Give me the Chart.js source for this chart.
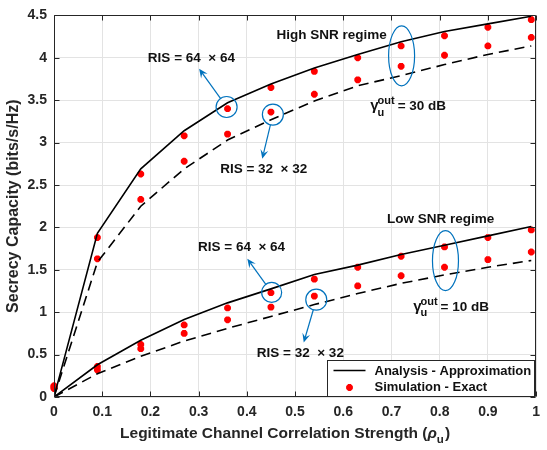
<!DOCTYPE html>
<html>
<head>
<meta charset="utf-8">
<script src="https://cdn.jsdelivr.net/npm/chart.js@4.4.1/dist/chart.umd.min.js"></script>
<style>
  html, body { margin: 0; padding: 0; background: #fff; }
  #wrap { width: 547px; height: 450px; }
</style>
</head>
<body>
<div id="wrap"><canvas id="capChart"></canvas></div>
<script>
// correlation strength samples
var rho = [0, 0.09, 0.18, 0.27, 0.36, 0.45, 0.54, 0.63, 0.72, 0.81, 0.90, 0.99];

// analysis (approximation) curves
var highAna64 = [0, 1.93, 2.69, 3.14, 3.47, 3.69, 3.88, 4.04, 4.19, 4.31, 4.40, 4.49];
var highAna32 = [0, 1.59, 2.25, 2.69, 3.03, 3.27, 3.49, 3.67, 3.79, 3.92, 4.04, 4.14];
var lowAna64 = [0, 0.38, 0.67, 0.915, 1.11, 1.275, 1.445, 1.555, 1.68, 1.79, 1.90, 2.01];
var lowAna32 = [0, 0.275, 0.48, 0.66, 0.81, 0.95, 1.09, 1.22, 1.34, 1.44, 1.53, 1.61];

// simulation (exact) points
var highSim64 = [0.13, 1.88, 2.63, 3.08, 3.40, 3.65, 3.84, 4.00, 4.14, 4.26, 4.36, 4.45];
var highSim32 = [0.11, 1.63, 2.33, 2.78, 3.10, 3.36, 3.57, 3.74, 3.90, 4.03, 4.14, 4.24];
var lowSim64 = [0.13, 0.36, 0.62, 0.85, 1.05, 1.23, 1.39, 1.53, 1.66, 1.77, 1.88, 1.97];
var lowSim32 = [0.10, 0.32, 0.57, 0.75, 0.91, 1.06, 1.19, 1.31, 1.43, 1.53, 1.62, 1.71];

var xTicks = [0, 0.1, 0.2, 0.3, 0.4, 0.5, 0.6, 0.7, 0.8, 0.9, 1];
var yTicks = [0, 0.5, 1, 1.5, 2, 2.5, 3, 3.5, 4, 4.5];

var legendLabels = ['Analysis - Approximation', 'Simulation - Exact'];

var FONT = '"Liberation Sans", Arial, Helvetica, sans-serif';
var INK = '#262626';
var BLUE = '#0072BD';

function pts(ys) {
    return rho.map(function (x, i) { return { x: x, y: ys[i] }; });
}

function curve(ys, dashed) {
    return {
        data: pts(ys),
        showLine: true,
        borderColor: '#000',
        borderWidth: 1.6,
        borderDash: dashed ? [10, 6] : [],
        pointRadius: 0,
        tension: 0
    };
}

function sim(ys) {
    return {
        data: pts(ys),
        showLine: false,
        clip: false,
        pointStyle: 'star',
        pointRadius: 3.4,
        borderWidth: 2.5,
        borderColor: '#ff0000',
        backgroundColor: '#ff0000'
    };
}

// callouts: text, circles with arrows, group ellipses
var notes = [
    { text: 'RIS = 64  \u00d7 64', x: 0.285, y: 4.0 },
    { text: 'RIS = 32  \u00d7 32', x: 0.435, y: 2.686 },
    { text: 'High SNR regime', x: 0.576, y: 4.27 },
    { text: 'Low SNR regime', x: 0.802, y: 2.093 },
    { text: 'RIS = 64  \u00d7 64', x: 0.389, y: 1.767 },
    { text: 'RIS = 32  \u00d7 32', x: 0.511, y: 0.515 }
];
var rings = [
    { x: 0.358, y: 3.42, r: 10.5, to: [0.301, 3.87] },
    { x: 0.454, y: 3.33, r: 10.5, to: [0.432, 2.81] },
    { x: 0.4515, y: 1.233, r: 10, to: [0.401, 1.631] },
    { x: 0.544, y: 1.148, r: 10.5, to: [0.518, 0.643] }
];
var groups = [
    { x: 0.721, y: 4.023, rx: 13, ry: 30 },
    { x: 0.812, y: 1.608, rx: 13, ry: 30 }
];
var snrTags = [
    { value: '= 30 dB', x: 0.656, y: 3.384 },
    { value: '= 10 dB', x: 0.745, y: 1.02 }
];

function arrow(ctx, x0, y0, x1, y1) {
    var a = Math.atan2(y1 - y0, x1 - x0), L = 9, W = 4;
    var c = Math.cos(a), s = Math.sin(a);
    ctx.beginPath();
    ctx.moveTo(x0, y0);
    ctx.lineTo(x1 - L * 0.6 * c, y1 - L * 0.6 * s);
    ctx.stroke();
    ctx.beginPath();
    ctx.moveTo(x1, y1);
    ctx.lineTo(x1 - L * c + W * s, y1 - L * s - W * c);
    ctx.lineTo(x1 - L * 0.6 * c, y1 - L * 0.6 * s);
    ctx.lineTo(x1 - L * c - W * s, y1 - L * s + W * c);
    ctx.closePath();
    ctx.fill();
}

function tickText(v) {
    return String(Math.round(v * 10) / 10);
}

var decor = {
    id: 'decor',
    afterDatasetsDraw: function (chart) {
        var ctx = chart.ctx, ca = chart.chartArea;
        var xs = chart.scales.x, ys = chart.scales.y;
        ctx.save();

        // axes box with inward ticks
        ctx.strokeStyle = INK;
        ctx.lineWidth = 1;
        var L = Math.round(ca.left) + 0.5, R = Math.round(ca.right) - 0.5;
        var T = Math.round(ca.top) + 0.5, B = Math.round(ca.bottom) - 0.5;
        ctx.beginPath();
        ctx.rect(L, T, R - L, B - T);
        xTicks.forEach(function (v) {
            var p = Math.round(xs.getPixelForValue(v)) + 0.5;
            ctx.moveTo(p, B); ctx.lineTo(p, B - 5);
            ctx.moveTo(p, T); ctx.lineTo(p, T + 5);
        });
        yTicks.forEach(function (v) {
            var p = Math.round(ys.getPixelForValue(v)) + 0.5;
            ctx.moveTo(L, p); ctx.lineTo(L + 5, p);
            ctx.moveTo(R, p); ctx.lineTo(R - 5, p);
        });
        ctx.stroke();

        // circles and arrows
        ctx.strokeStyle = BLUE;
        ctx.fillStyle = BLUE;
        ctx.lineWidth = 1.2;
        rings.forEach(function (c) {
            var cx = xs.getPixelForValue(c.x), cy = ys.getPixelForValue(c.y);
            var hx = xs.getPixelForValue(c.to[0]), hy = ys.getPixelForValue(c.to[1]);
            ctx.beginPath();
            ctx.arc(cx, cy, c.r, 0, Math.PI * 2);
            ctx.stroke();
            var a = Math.atan2(hy - cy, hx - cx);
            arrow(ctx, cx + c.r * Math.cos(a), cy + c.r * Math.sin(a), hx, hy);
        });
        groups.forEach(function (g) {
            ctx.beginPath();
            ctx.ellipse(xs.getPixelForValue(g.x), ys.getPixelForValue(g.y), g.rx, g.ry, 0, 0, Math.PI * 2);
            ctx.stroke();
        });

        // callout text
        ctx.fillStyle = '#111';
        ctx.font = 'bold 13.5px ' + FONT;
        ctx.textAlign = 'center';
        ctx.textBaseline = 'middle';
        notes.forEach(function (n) {
            ctx.fillText(n.text, xs.getPixelForValue(n.x), ys.getPixelForValue(n.y));
        });

        // gamma_u^out tags
        ctx.textAlign = 'left';
        ctx.textBaseline = 'alphabetic';
        snrTags.forEach(function (t) {
            var x = xs.getPixelForValue(t.x), b = ys.getPixelForValue(t.y);
            ctx.font = 'bold 15px ' + FONT;
            ctx.fillText('\u03b3', x, b);
            var gw = ctx.measureText('\u03b3').width;
            ctx.font = 'bold 11px ' + FONT;
            ctx.fillText('out', x + gw - 1, b - 6);
            ctx.fillText('u', x + gw - 1, b + 5.5);
            var ow = ctx.measureText('out').width;
            ctx.font = 'bold 13.5px ' + FONT;
            ctx.fillText(t.value, x + gw + ow + 2, b);
        });

        // x axis title with rho_u
        ctx.fillStyle = INK;
        var base = 438;
        var big = 'bold 15.5px ' + FONT;
        ctx.font = big;
        var head = 'Legitimate Channel Correlation Strength (';
        var w1 = ctx.measureText(head).width;
        ctx.font = 'italic ' + big;
        var w2 = ctx.measureText('\u03c1').width;
        ctx.font = 'bold 11.5px ' + FONT;
        var w3 = ctx.measureText('u').width;
        ctx.font = big;
        var w4 = ctx.measureText(')').width;
        var x0 = (ca.left + ca.right) / 2 - 10 - (w1 + w2 + w3 + w4 + 1) / 2;
        ctx.fillText(head, x0, base);
        ctx.font = 'italic ' + big;
        ctx.fillText('\u03c1', x0 + w1, base);
        ctx.font = 'bold 11.5px ' + FONT;
        ctx.fillText('u', x0 + w1 + w2, base + 5);
        ctx.font = big;
        ctx.fillText(')', x0 + w1 + w2 + w3 + 1, base);

        // legend box, bottom right inside the axes
        var bw = 207, bh = 36;
        var bx = Math.round(ca.right) - 2 - bw + 0.5, by = Math.round(ca.bottom) - 1 - bh + 0.5;
        ctx.fillStyle = '#fff';
        ctx.fillRect(bx, by, bw, bh);
        ctx.strokeStyle = INK;
        ctx.lineWidth = 1;
        ctx.strokeRect(bx, by, bw, bh);
        var ana = chart.data.datasets[0], sm = chart.data.datasets[4];
        ctx.strokeStyle = ana.borderColor;
        ctx.lineWidth = ana.borderWidth;
        ctx.beginPath();
        ctx.moveTo(bx + 6, by + 10);
        ctx.lineTo(bx + 38, by + 10);
        ctx.stroke();
        ctx.strokeStyle = sm.borderColor;
        ctx.fillStyle = sm.backgroundColor;
        ctx.lineWidth = sm.borderWidth;
        Chart.helpers.drawPoint(ctx, {
            pointStyle: sm.pointStyle, radius: sm.pointRadius, borderWidth: sm.borderWidth
        }, bx + 22, by + 27);
        ctx.fillStyle = '#111';
        ctx.font = 'bold 13px ' + FONT;
        ctx.textBaseline = 'middle';
        ctx.fillText(legendLabels[0], bx + 47, by + 11);
        ctx.fillText(legendLabels[1], bx + 47, by + 27);

        ctx.restore();
    }
};

var ctx = document.getElementById('capChart').getContext('2d');

var capChart = new Chart(ctx, {
    type: 'scatter',
    data: {
        datasets: [
            curve(highAna64, false),
            curve(highAna32, true),
            curve(lowAna64, false),
            curve(lowAna32, true),
            sim(highSim64),
            sim(highSim32),
            sim(lowSim64),
            sim(lowSim32)
        ]
    },
    options: {
        responsive: true,
        maintainAspectRatio: false,
        animation: false,
        layout: { padding: { top: 10, right: 2, left: 0, bottom: 0 } },
        plugins: {
            legend: { display: false },
            tooltip: { enabled: false }
        },
        scales: {
            x: {
                type: 'linear',
                min: 0,
                max: 1,
                afterBuildTicks: function (s) { s.ticks = xTicks.map(function (v) { return { value: v }; }); },
                afterFit: function (s) { s.height = 53; },
                grid: { color: '#e3e3e3', drawTicks: false },
                border: { display: false },
                ticks: {
                    padding: 7,
                    color: INK,
                    maxRotation: 0,
                    callback: tickText,
                    font: { family: FONT, size: 14, weight: 'bold' }
                }
            },
            y: {
                type: 'linear',
                min: 0,
                max: 4.5,
                afterBuildTicks: function (s) { s.ticks = yTicks.map(function (v) { return { value: v }; }); },
                afterFit: function (s) { s.width = 54; },
                grid: { color: '#e3e3e3', drawTicks: false },
                border: { display: false },
                ticks: {
                    padding: 7,
                    color: INK,
                    callback: tickText,
                    font: { family: FONT, size: 14, weight: 'bold' }
                },
                title: {
                    display: true,
                    text: 'Secrecy Capacity (bits/s/Hz)',
                    color: INK,
                    padding: { top: 4, bottom: 0 },
                    font: { family: FONT, size: 16, weight: 'bold' }
                }
            }
        }
    },
    plugins: [decor]
});
</script>
</body>
</html>
